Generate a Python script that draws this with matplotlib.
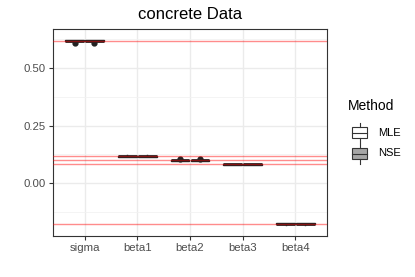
import matplotlib.pyplot as plt
import matplotlib.patches as mpatches
from matplotlib.lines import Line2D
import numpy as np

plt.rcParams["font.family"] = ["Liberation Sans", "DejaVu Sans"]

# Data
params = ["sigma", "beta1", "beta2", "beta3", "beta4"]
true_vals = [0.617, 0.117, 0.099, 0.081, -0.178]

mle_med = [0.618, 0.117, 0.099, 0.081, -0.178]
mle_q1 = [0.616, 0.115, 0.097, 0.079, -0.180]
mle_q3 = [0.620, 0.119, 0.101, 0.083, -0.176]
mle_lo = [0.614, 0.114, 0.096, 0.078, -0.183]
mle_hi = [0.622, 0.120, 0.102, 0.084, -0.173]
mle_out = [[0.607], [], [0.106], [], []]

nse_med = [0.618, 0.117, 0.099, 0.081, -0.178]
nse_q1 = [0.616, 0.115, 0.097, 0.079, -0.180]
nse_q3 = [0.620, 0.119, 0.101, 0.083, -0.176]
nse_lo = [0.614, 0.114, 0.096, 0.078, -0.183]
nse_hi = [0.622, 0.120, 0.102, 0.084, -0.173]
nse_out = [[0.607], [], [0.106], [], []]

methods = ["MLE", "NSE"]
fills = ["white", "#a6a6a6"]

W, H = 415, 277
fig = plt.figure(figsize=(W / 100, H / 100), dpi=100)
ax = fig.add_axes([53 / W, 41 / H, 274 / W, 207 / H])


def stats(med, q1, q3, lo, hi, out):
    return [dict(med=m, q1=a, q3=b, whislo=l, whishi=h, fliers=o)
            for m, a, b, l, h, o in zip(med, q1, q3, lo, hi, out)]


x = np.arange(1, len(params) + 1)
all_stats = [stats(mle_med, mle_q1, mle_q3, mle_lo, mle_hi, mle_out),
             stats(nse_med, nse_q1, nse_q3, nse_lo, nse_hi, nse_out)]
for i, (st, fc) in enumerate(zip(all_stats, fills)):
    pos = x + (i - 0.5) * 0.375
    ax.bxp(st, positions=pos, widths=0.355, patch_artist=True, showcaps=False,
           boxprops=dict(facecolor=fc, edgecolor="#222222", linewidth=1.0),
           medianprops=dict(color="#222222", linewidth=2.0),
           whiskerprops=dict(color="#222222", linewidth=1.0),
           flierprops=dict(marker="o", markerfacecolor="#222222",
                           markeredgecolor="#222222", markersize=3.5),
           zorder=3)

for v in true_vals:
    ax.axhline(v, color="red", alpha=0.45, linewidth=1.0, zorder=4)

ax.set_xlim(0.4, 5.6)
ax.set_ylim(-0.2304, 0.6696)
ax.set_xticks(x)
ax.set_xticklabels(params)
ax.set_yticks([0.0, 0.25, 0.5])
ax.set_yticklabels(["0.00", "0.25", "0.50"])
ax.set_yticks([-0.125, 0.125, 0.375, 0.625], minor=True)
ax.grid(True, which="major", color="#ebebeb", linewidth=1.0, zorder=0)
ax.grid(True, which="minor", axis="y", color="#f2f2f2", linewidth=0.6, zorder=0)
ax.set_axisbelow(True)
for s in ax.spines.values():
    s.set_color("#333333")
    s.set_linewidth(0.8)
ax.tick_params(axis="both", which="major", length=3, color="#333333",
               labelcolor="#4d4d4d", labelsize=8.2, width=0.8, pad=2)
ax.tick_params(axis="both", which="minor", length=0)
ax.set_title("concrete Data", fontsize=12, pad=7)

# legend drawn in figure pixel coordinates (ggplot-style box keys)
def fx(px):
    return px / W


def fy(py):
    return (H - py) / H


fig.text(fx(348), fy(106), "Method", fontsize=10, va="center", ha="left")
for k, (m, fc) in enumerate(zip(methods, fills)):
    cy = 132.5 + k * 21
    fig.add_artist(mpatches.Rectangle((fx(352), fy(cy + 5.5)), 15 / W, 11 / H,
                                      facecolor=fc, edgecolor="#333333",
                                      linewidth=0.8, transform=fig.transFigure))
    fig.add_artist(Line2D([fx(352), fx(367)], [fy(cy), fy(cy)], color="#333333",
                          linewidth=0.8, transform=fig.transFigure))
    fig.add_artist(Line2D([fx(359.5), fx(359.5)], [fy(cy - 10), fy(cy - 5.5)],
                          color="#333333", linewidth=0.8, transform=fig.transFigure))
    fig.add_artist(Line2D([fx(359.5), fx(359.5)], [fy(cy + 5.5), fy(cy + 10)],
                          color="#333333", linewidth=0.8, transform=fig.transFigure))
    fig.text(fx(378), fy(cy), m, fontsize=8, va="center", ha="left")

fig.savefig("out.png", dpi=100)
